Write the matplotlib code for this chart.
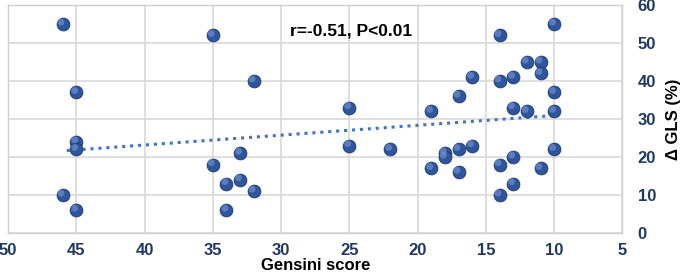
import numpy as np
import matplotlib.pyplot as plt

# Gensini score vs change in GLS
gensini = [46, 35, 32, 45, 45, 45, 33, 35, 34, 33, 32, 46, 45, 34,
           25, 25, 22, 19, 19, 18, 18, 17, 17, 17, 16, 16,
           14, 14, 14, 14, 13, 13, 13, 13, 12, 12, 11, 11, 11,
           10, 10, 10, 10]
gls = [55, 52, 40, 37, 24, 22, 21, 18, 13, 14, 11, 10, 6, 6,
       33, 23, 22, 32, 17, 21, 20, 36, 22, 16, 41, 23,
       52, 40, 18, 10, 41, 33, 20, 13, 45, 32, 45, 42, 17,
       55, 37, 32, 22]
xticks = [50, 45, 40, 35, 30, 25, 20, 15, 10, 5]
yticks = [0, 10, 20, 30, 40, 50, 60]

navy = '#1F3864'
plt.rcParams['font.family'] = ['Liberation Sans', 'DejaVu Sans']

fig = plt.figure(figsize=(6.85, 2.8), dpi=100)
ax = fig.add_axes([0.0117, 0.168, 0.897, 0.814])

ax.set_xlim(50, 5)
ax.set_ylim(0, 60)
ax.set_xticks(xticks)
ax.set_yticks(yticks)
ax.grid(True, color='#d9d9d9', linewidth=1.2)
ax.set_axisbelow(True)
for s in ax.spines.values():
    s.set_color('#d0d0d0')
    s.set_linewidth(1.0)

ax.yaxis.tick_right()
ax.yaxis.set_label_position('right')
ax.tick_params(length=0, labelsize=12, labelcolor=navy)
ax.tick_params(axis='y', pad=11)
ax.tick_params(axis='x', pad=7)
for lab in ax.get_xticklabels() + ax.get_yticklabels():
    lab.set_fontweight('bold')

# trend line
x = np.array(gensini, dtype=float)
y = np.array(gls, dtype=float)
k, b = np.polyfit(x, y, 1)
xl = np.array([x.max() - 0.3, x.min()])
ax.plot(xl, k * xl + b, ls=(0, (1, 1.6)), color='#4472C4', lw=2.2, zorder=2)

# spheres: base + highlight
ax.scatter(x, y, s=85, color='#2F559B', edgecolors='#1d3a70', linewidths=0.6, zorder=3)
ax.scatter(x + 0.12, y + 0.5, s=24, color='#6d8fd0', edgecolors='none', alpha=0.7, zorder=4)

ax.text(0.559, 0.886, 'r=-0.51, P<0.01', transform=ax.transAxes, ha='center',
        va='center', fontsize=12.5, fontweight='bold', color='black')

ax.set_xlabel('Gensini score', fontsize=12, fontweight='bold', labelpad=0)
ax.set_ylabel('Δ GLS (%)', fontsize=12, fontweight='bold', labelpad=7)

fig.savefig('out.png', dpi=100)
